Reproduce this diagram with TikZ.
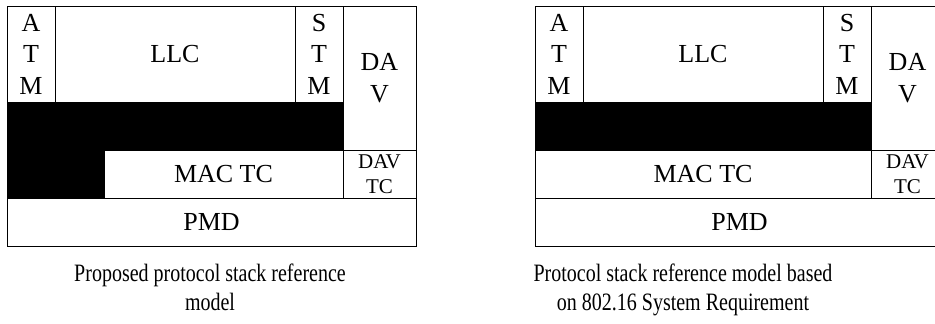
\documentclass[tikz,border=0pt]{standalone}
\usepackage{fontspec}
\setmainfont{Liberation Serif}
\usepackage{graphicx}
\begin{document}
\begin{tikzpicture}[x=1pt,y=-1pt,
  cell/.style={draw=black, line width=0.9pt, inner sep=0pt, outer sep=0pt, align=center,
    font=\fontsize{26}{31.5}\selectfont},
  smallcell/.style={cell, font=\fontsize{21}{25}\selectfont},
  blackfill/.style={fill=black, draw=none, inner sep=0pt, outer sep=0pt},
  caption/.style={align=center, inner sep=0pt, font=\fontsize{25}{30}\selectfont}]
\useasboundingbox (0,0) rectangle (935,324);
\clip (0,0) rectangle (935,324);
% ---------- left model ----------
\node[blackfill, minimum width=336pt, minimum height=48pt] (lblk1) at (175,126) {};
\node[blackfill, minimum width=97pt, minimum height=48pt] (lblk2) at (55.5,174) {};
\node[cell, minimum width=48pt, minimum height=96pt] (latm) at (31,54) {A\\T\\M};
\node[cell, minimum width=240pt, minimum height=96pt] (lllc) at (175,54) {LLC};
\node[cell, minimum width=48pt, minimum height=96pt] (lstm) at (319,54) {S\\T\\M};
\node[cell, minimum width=73pt, minimum height=144pt] (ldav) at (379.5,78) {DA\\V};
\node[cell, minimum width=239pt, minimum height=48pt] (lmac) at (223.5,174) {MAC TC};
\node[smallcell, minimum width=73pt, minimum height=48pt] (ldavtc) at (379.5,174) {DAV\\TC};
\node[cell, minimum width=409pt, minimum height=48pt] (lpmd) at (211.5,222) {PMD};
\draw[line width=0.9pt] (lblk1.north west) -- (lblk2.south west);
\node[caption] (lcap) at (210,290) {\scalebox{0.8}[1]{\begin{tabular}{@{}c@{}}Proposed protocol stack reference\\[-0.2pt]model\end{tabular}}};
% ---------- right model ----------
\begin{scope}[xshift=528pt]
\node[blackfill, minimum width=336pt, minimum height=48pt] (rblk) at (175,126) {};
\node[cell, minimum width=48pt, minimum height=96pt] (ratm) at (31,54) {A\\T\\M};
\node[cell, minimum width=240pt, minimum height=96pt] (rllc) at (175,54) {LLC};
\node[cell, minimum width=48pt, minimum height=96pt] (rstm) at (319,54) {S\\T\\M};
\node[cell, minimum width=73pt, minimum height=144pt] (rdav) at (379.5,78) {DA\\V};
\node[cell, minimum width=336pt, minimum height=48pt] (rmac) at (175,174) {MAC TC};
\node[smallcell, minimum width=73pt, minimum height=48pt] (rdavtc) at (379.5,174) {DAV\\TC};
\node[cell, minimum width=409pt, minimum height=48pt] (rpmd) at (211.5,222) {PMD};
\draw[line width=0.9pt] (rblk.north west) -- (rblk.south west);
\end{scope}
\node[caption] (rcap) at (683,290) {\scalebox{0.8}[1]{\begin{tabular}{@{}c@{}}Protocol stack reference model based\\[-0.2pt]on 802.16 System Requirement\end{tabular}}};
\end{tikzpicture}
\end{document}
